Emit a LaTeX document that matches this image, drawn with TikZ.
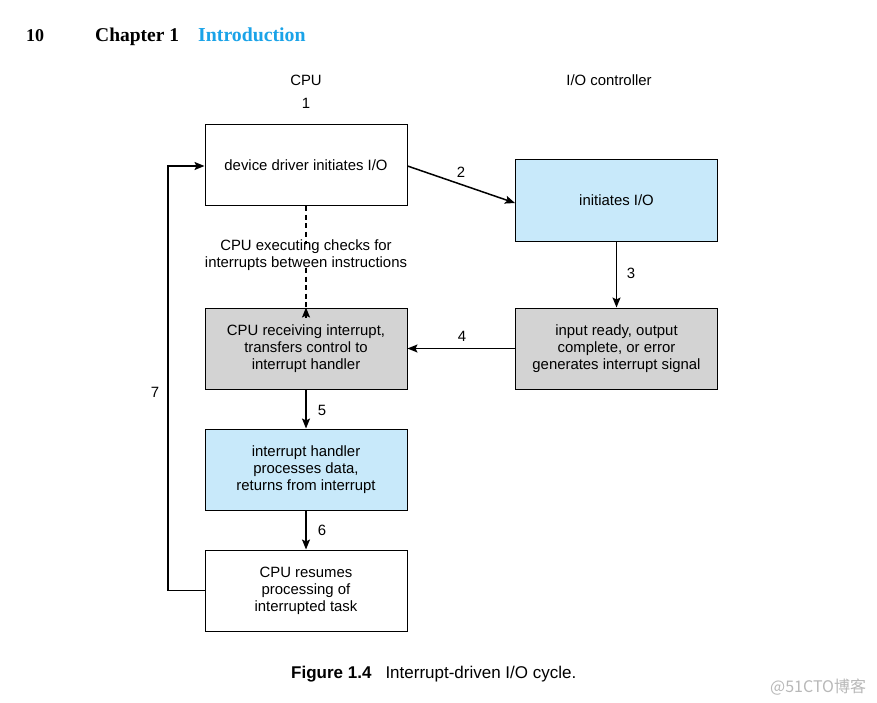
\documentclass[tikz,border=0pt]{standalone}
\usepackage{fontspec}
\setmainfont{Liberation Sans}
\newfontfamily\serifhead{Liberation Serif}
\newfontfamily\cjk{Noto Sans CJK SC}
\usetikzlibrary{arrows.meta}
\definecolor{lblue}{HTML}{C8E9FA}
\definecolor{lgray}{HTML}{D3D3D3}
\definecolor{headblue}{HTML}{1AA3E8}
\tikzset{
  box/.style={draw=black, line width=1pt, minimum width=202pt, minimum height=81pt, align=center, inner sep=0pt, font=\fontsize{14.9}{17}\selectfont},
  lbl/.style={font=\fontsize{14.9}{17}\selectfont, inner sep=0pt},
  tip/.style={-{Stealth[length=10pt,width=8pt,inset=2pt]}},
  conn/.style={line width=1.5pt, tip},
  dashconn/.style={line width=1.7pt, dash pattern=on 5pt off 3.5pt}
}
\begin{document}
\begin{tikzpicture}[x=1pt,y=-1pt]
\useasboundingbox[fill=white] (0,0) rectangle (877,703);
% header
\node[anchor=base west, inner sep=0pt, font=\serifhead\bfseries\fontsize{18}{20}\selectfont] (pg) at (26,42) {10};
\node[anchor=base west, inner sep=0pt, font=\serifhead\bfseries\fontsize{19.5}{22}\selectfont] (ch) at (95,42) {Chapter 1};
\node[anchor=base west, inner sep=0pt, font=\serifhead\bfseries\fontsize{19.8}{22}\selectfont, text=headblue] (intro) at (198,42) {Introduction};
% column titles
\node[lbl] (cpu) at (306,80) {CPU};
\node[lbl] (one) at (306,103) {1};
\node[lbl] (ioc) at (609,80) {I/O controller};
% boxes
\node[box] (dd) at (306,165.5) {device driver initiates I/O};
\node[box, fill=lblue] (init) at (616.5,200.5) {initiates I/O};
\node[box, fill=lgray] (recv) at (306,348.5) {CPU receiving interrupt,\\transfers control to\\interrupt handler};
\node[box, fill=lgray] (ready) at (616.5,348.5) {input ready, output\\complete, or error\\generates interrupt signal};
\node[box, fill=lblue] (hand) at (306,469.5) {interrupt handler\\processes data,\\returns from interrupt};
\node[box] (res) at (306,590.5) {CPU resumes\\processing of\\interrupted task};
% checks text
\node[lbl, align=center] (chk) at (306,255.5) {CPU executing checks for\\interrupts between instructions};
% connectors
\draw[conn] (dd.east |- 0,166) -- (init.west |- 0,203);
\node[lbl] (l2) at (461,172) {2};
\draw[conn] (init.south) -- (ready.north);
\node[lbl] (l3) at (631,273) {3};
\draw[conn] (ready.west) -- (recv.east);
\node[lbl] (l4) at (462,336) {4};
\draw[conn] (recv.south) -- (hand.north);
\node[lbl] (l5) at (322,410) {5};
\draw[conn] (hand.south) -- (res.north);
\node[lbl] (l6) at (322,530) {6};
\draw[conn] (res.west) -- (168,590.5) -- (168,166) -- (dd.west |- 0,166);
\node[lbl] (l7) at (155,392) {7};
\draw[dashconn] (dd.south) -- ([yshift=-4pt]chk.north);
\draw[dashconn] ([yshift=3pt]chk.south) -- ([yshift=-9pt]recv.north);
\draw[conn] ([yshift=-10pt]recv.north) -- (recv.north);
% caption
\node[anchor=base west, inner sep=0pt, font=\fontsize{17}{19}\selectfont] (cap) at (291,678) {\textbf{Figure 1.4}\hspace{14pt}Interrupt-driven I/O cycle.};
% watermark
\node[anchor=base west, inner sep=0pt, text=black!28, font=\cjk\fontsize{16}{18}\selectfont] (wm) at (770,692) {@51CTO博客};
\end{tikzpicture}
\end{document}
